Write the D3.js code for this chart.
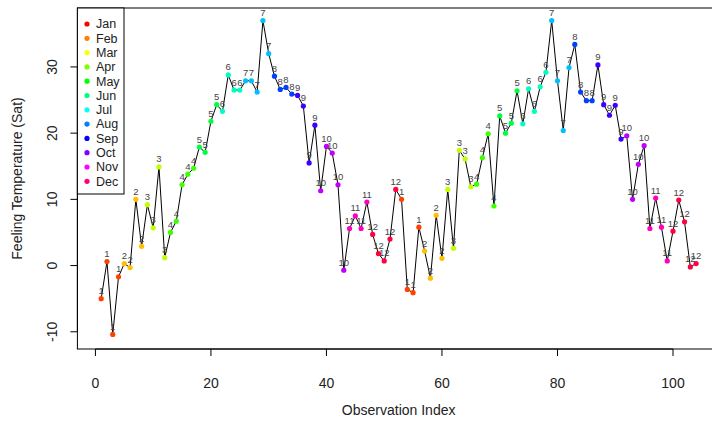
<!DOCTYPE html>
<html><head><meta charset="utf-8">
<script src="https://cdn.jsdelivr.net/npm/d3@7"></script>
<style>body{margin:0;background:#fff}svg{display:block;font-family:"Liberation Sans",Arial,sans-serif}</style>
</head><body><svg id="c" width="712" height="424"></svg>
<script>
const values = [-5.0,0.6,-10.4,-1.7,0.3,-0.3,10.0,2.9,9.2,5.7,14.9,1.2,5.0,6.7,12.2,13.8,14.7,17.9,17.1,21.8,24.3,23.3,28.8,26.5,26.5,27.9,27.9,26.2,37.0,32.0,28.6,26.6,26.9,25.9,25.7,24.1,15.5,21.2,11.3,18.0,17.0,12.2,-0.7,5.6,7.5,5.6,9.6,4.7,1.8,0.7,4.0,11.5,
10.0,-3.6,-4.1,5.8,2.2,-1.9,7.6,1.1,11.5,2.6,17.4,16.1,11.9,12.3,16.3,19.9,9.0,22.6,20.0,21.5,26.4,21.4,26.7,23.3,27.0,29.2,37.0,27.9,20.4,29.9,33.4,26.2,24.9,24.9,30.3,24.3,22.7,24.2,19.1,19.6,10.0,15.3,18.1,5.6,10.2,5.8,0.7,5.2,9.9,6.6,-0.2,0.3];
const months = [1,1,1,1,2,2,2,2,3,3,3,3,4,4,4,4,4,5,5,5,5,6,6,6,6,7,7,7,7,7,8,8,8,8,9,9,9,9,10,10,10,10,10,11,11,11,11,12,12,12,12,12,
1,1,1,1,2,2,2,2,3,3,3,3,3,4,4,4,4,5,5,5,5,6,6,6,6,6,7,7,7,7,8,8,8,8,9,9,9,9,9,10,10,10,10,11,11,11,11,12,12,12,12,12];
const monthNames = ["Jan","Feb","Mar","Apr","May","Jun","Jul","Aug","Sep","Oct","Nov","Dec"];
const xTicks = [0,20,40,60,80,100];
const yTicks = [-10,0,10,20,30];

const rainbow = n => d3.range(n).map(i => d3.hsl(360*i/n,1,0.5).formatHex());
const legendCols = rainbow(12);
const pointCols = rainbow(24);

const svg = d3.select("#c");
const L=77.4,R=719.9,T=8,B=349;
const x = d3.scaleLinear().domain([-3.12,108.12]).range([L,R]);
const y = d3.scaleLinear().domain([-12.6,38.9]).range([B,T]);
const data = values.map((v,i)=>({i:i+1,v,m:months[i]}));

svg.append("rect").attr("x",L).attr("y",T).attr("width",R-L).attr("height",B-T)
  .attr("fill","none").attr("stroke","#000").attr("stroke-width",1);

// x axis
const gx = svg.append("g");
gx.append("line").attr("x1",x(0)).attr("x2",x(100)).attr("y1",B).attr("y2",B).attr("stroke","#000");
xTicks.forEach(t=>{
  gx.append("line").attr("x1",x(t)).attr("x2",x(t)).attr("y1",B).attr("y2",B+7).attr("stroke","#000");
  gx.append("text").attr("x",x(t)).attr("y",388).attr("text-anchor","middle").attr("font-size",14).attr("fill","#222").text(t);
});
// y axis
const gy = svg.append("g");
gy.append("line").attr("x1",L).attr("x2",L).attr("y1",y(-10)).attr("y2",y(30)).attr("stroke","#000");
yTicks.forEach(t=>{
  gy.append("line").attr("x1",L-7).attr("x2",L).attr("y1",y(t)).attr("y2",y(t)).attr("stroke","#000");
  gy.append("text").attr("transform",`translate(57,${y(t)}) rotate(-90)`).attr("text-anchor","middle")
    .attr("font-size",14).attr("fill","#222").text(t);
});
svg.append("text").attr("x",(L+R)/2).attr("y",415).attr("text-anchor","middle").attr("font-size",14).attr("fill","#222").text("Observation Index");
svg.append("text").attr("transform",`translate(22,${(T+B)/2}) rotate(-90)`).attr("text-anchor","middle").attr("font-size",14).attr("fill","#222").text("Feeling Temperature (Sat)");

// line
svg.append("path").datum(data).attr("fill","none").attr("stroke","#000").attr("stroke-width",1)
  .attr("d",d3.line().x(d=>x(d.i)).y(d=>y(d.v)));
// points
svg.append("g").selectAll("circle").data(data).join("circle")
  .attr("cx",d=>x(d.i)).attr("cy",d=>y(d.v)).attr("r",2.6).attr("fill",d=>pointCols[(2*d.m-1)%24]);
// labels
svg.append("g").selectAll("text").data(data).join("text")
  .attr("x",d=>x(d.i)).attr("y",d=>y(d.v)-4.5).attr("text-anchor","middle")
  .attr("font-size",9.5).attr("fill","#444").text(d=>d.m);

// legend
const lg = svg.append("g");
lg.append("rect").attr("x",L).attr("y",T).attr("width",124-L).attr("height",194-T).attr("fill","#fff").attr("stroke","#000");
monthNames.forEach((n,k)=>{
  const yy = 24 + k*14.3;
  lg.append("circle").attr("cx",87).attr("cy",yy).attr("r",2.6).attr("fill",legendCols[k]);
  lg.append("text").attr("x",96).attr("y",yy+4.3).attr("font-size",12.5).attr("fill","#222").text(n);
});
</script></body></html>
